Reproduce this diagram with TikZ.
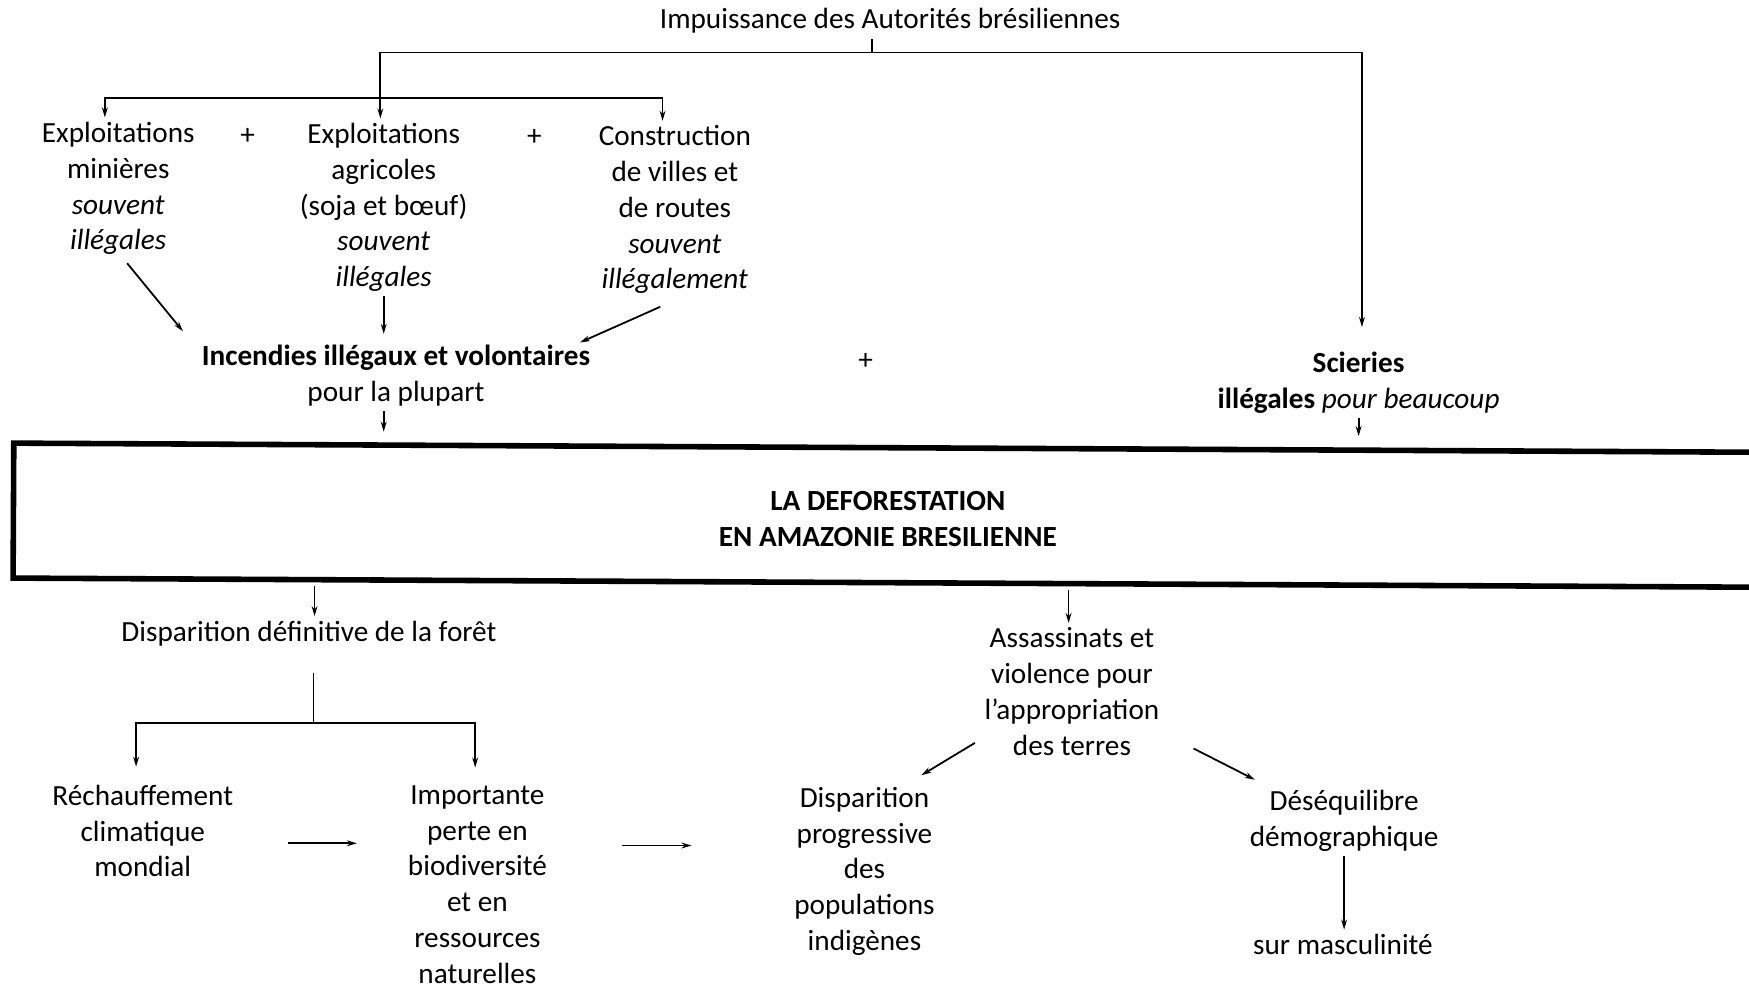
\documentclass[tikz,border=0pt]{standalone}
\usepackage{fontspec}
\setmainfont{Carlito}
\usetikzlibrary{arrows.meta,calc}
\begin{document}
\begin{tikzpicture}[x=0.5pt,y=-0.5pt,
  txt/.style={align=center,inner sep=2pt,font=\fontsize{13.1}{16}\selectfont},
  ln/.style={line width=0.8pt},
  arr/.style={ln,-{Stealth[length=4.5pt,width=2.6pt]}},
  bigbox/.style={draw,line width=2.5pt,minimum width=810pt,minimum height=60.5pt,rotate=-0.3,inner sep=0pt}]
\useasboundingbox (0,0) rectangle (1568,885);
% top
\node[txt] (title) at (798,19) {Impuissance des Autorités brésiliennes};
\node[txt] (exp1) at (106,169) {Exploitations\\minières\\\textit{souvent}\\\textit{illégales}};
\node[txt] (plus1) at (222,122) {+};
\node[txt] (exp2) at (344,186) {Exploitations\\agricoles\\(soja et bœuf)\\\textit{souvent}\\\textit{illégales}};
\node[txt] (plus2) at (479,123) {+};
\node[txt] (constr) at (605,188) {Construction\\de villes et\\de routes\\\textit{souvent}\\\textit{illégalement}};
\node[txt] (inc) at (355,337) {\textbf{Incendies illégaux et volontaires}\\pour la plupart};
\node[txt] (plus3) at (776,324) {+};
\node[txt] (sci) at (1218,343) {\textbf{Scieries}\\\textbf{illégales} \textit{pour beaucoup}};
% central box
\node[bigbox] (box) at (822,462) {};
\node[txt] (defo) at (796,465) {\textbf{LA DEFORESTATION}\\\textbf{EN AMAZONIE BRESILIENNE}};
% bottom
\node[txt] (disp1) at (277,568) {Disparition définitive de la forêt};
\node[txt] (assas) at (961,620) {Assassinats et\\violence pour\\l’appropriation\\des terres};
\node[txt] (rech) at (128,745) {Réchauffement\\climatique\\mondial};
\node[txt,inner sep=1pt] (imp) at (428,793) {Importante\\perte en\\biodiversité\\et en\\ressources\\naturelles};
\node[txt] (disp2) at (775,781) {Disparition\\progressive\\des\\populations\\indigènes};
\node[txt] (deseq) at (1205,736) {Déséquilibre\\démographique};
\node[txt] (masc) at (1204,847) {sur masculinité};
% coordinates
\coordinate (tj) at (782,47);
\coordinate (tl) at (341,47);
\coordinate (tr) at (1221,47);
\coordinate (h2l) at (94,88);
\coordinate (h2r) at (594,88);
\coordinate (c1) at (344,0);
\coordinate (c2) at (282,0);
\coordinate (c3) at (958,0);
\coordinate (sp) at (281,648);
% connectors top
\draw[ln] (title.south -| tj) -- (tj);
\draw[ln] (tl) -- (tr);
\draw[arr] (tl) -- (tl |- exp2.north);
\draw[arr] (h2r) -- (h2l) -- (h2l |- exp1.north);
\draw[arr] (h2r) -- (h2r |- constr.north);
\draw[arr,shorten >=9pt] (tr) -- (tr |- sci.north);
\draw[arr] ([shift={(8,67)}]exp1.center) -- ([shift={(-191,-40)}]inc.center);
\draw[arr,shorten >=3pt] (exp2.south) -- (exp2.south |- inc.north);
\draw[arr] ([shift={(-13,87)}]constr.center) -- ([shift={(165,-30)}]inc.center);
\draw[arr,shorten >=6pt] (c1 |- inc.south) -- (c1 |- box.north);
\draw[arr,shorten >=4pt] (sci.south) -- (sci.south |- box.north);
% connectors bottom
\draw[arr] (c2 |- box.south) -- (c2 |- disp1.north);
\draw[arr,shorten <=2pt] (c3 |- box.south) -- (c3 |- assas.north);
\draw[ln,shorten <=10pt] (disp1.south -| sp) -- (sp);
\draw[arr,shorten >=6pt] (sp) -| ([shift={(-6,0)}]rech.north);
\draw[arr,shorten >=7pt] (sp) -| ([shift={(-2,0)}]imp.north);
\draw[arr] ([shift={(130,11)}]rech.center) -- ++(62,0);
\draw[arr] ([shift={(130,-35)}]imp.center) -- ++(62,0);
\draw[arr] ([shift={(-87,46)}]assas.center) -- ([shift={(51,-86)}]disp2.center);
\draw[arr] ([shift={(109,51)}]assas.center) -- ([shift={(-80,-37)}]deseq.center);
\draw[arr] (deseq.south) -- (deseq.south |- masc.north);
\end{tikzpicture}
\end{document}
